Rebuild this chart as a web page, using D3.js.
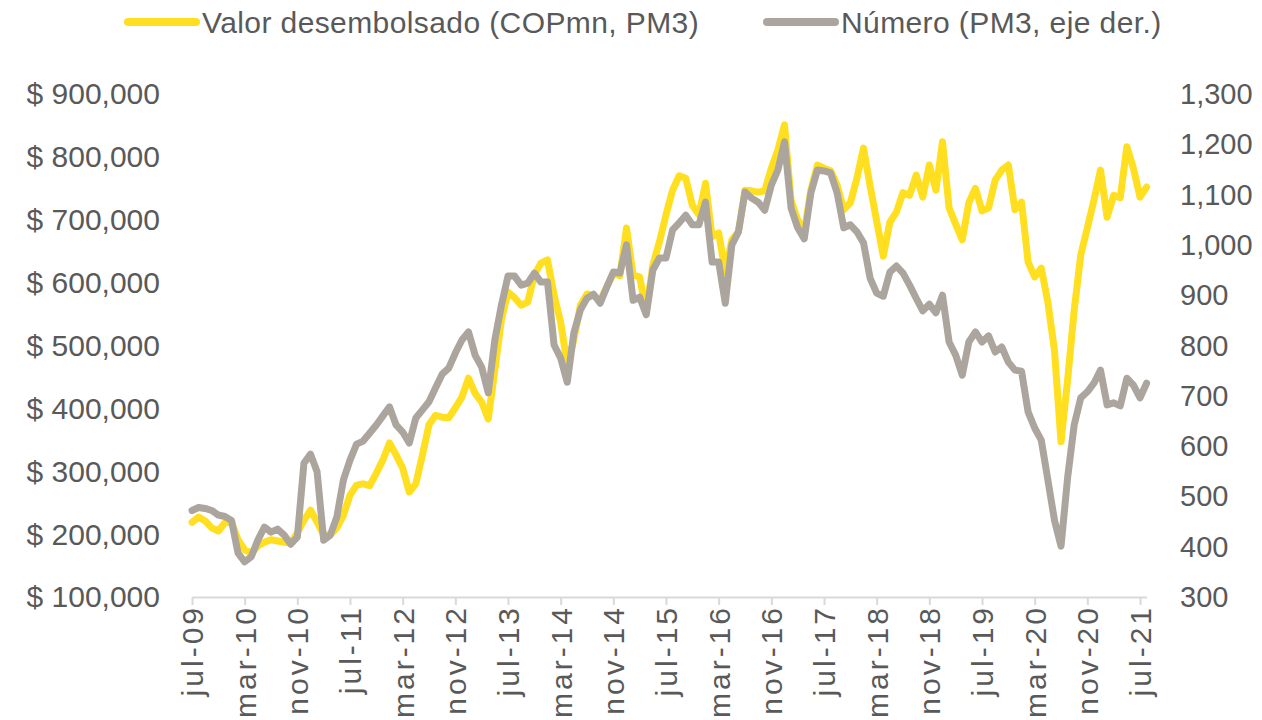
<!DOCTYPE html>
<html>
<head>
<meta charset="utf-8">
<script src="https://cdn.jsdelivr.net/npm/d3@7"></script>
<style>
  body { margin: 0; background: #fff; }
  svg text { font-family: "Liberation Sans", Arial, sans-serif; fill: #595959; }
</style>
</head>
<body>
<svg width="1262" height="720"></svg>
<script>
// months jul-09 .. aug-21
const monthNames = ["ene", "feb", "mar", "abr", "may", "jun", "jul", "ago", "sep", "oct", "nov", "dic"];
const startMonth = 6, startYear = 9, nMonths = 146;
const months = [];
for (let i = 0; i < nMonths; i++) {
  const m = (startMonth + i) % 12;
  const yr = startYear + Math.floor((startMonth + i) / 12);
  months.push(monthNames[m] + "-" + String(yr).padStart(2, "0"));
}

// Valor desembolsado (COPmn, PM3)
const valor = [
  219000, 227000, 221000, 210000, 205000, 218000, 219000, 191000, 175000, 170000,
  181000, 187000, 191000, 189000, 187000, 186000, 202000, 222000, 238000, 219000,
  199000, 199000, 210000, 230000, 262000, 278000, 280000, 277000, 297000, 318000,
  345000, 326000, 305000, 267000, 280000, 326000, 374000, 389000, 386000, 385000,
  401000, 418000, 448000, 424000, 410000, 383000, 461000, 541000, 585000, 576000,
  564000, 569000, 612000, 631000, 636000, 580000, 537000, 469000, 509000, 564000,
  582000, 579000, 572000, 593000, 615000, 611000, 687000, 612000, 609000, 552000,
  628000, 665000, 708000, 747000, 770000, 766000, 723000, 708000, 758000, 673000,
  679000, 617000, 668000, 681000, 747000, 746000, 744000, 746000, 782000, 811000,
  851000, 731000, 700000, 681000, 747000, 787000, 782000, 778000, 755000, 716000,
  727000, 766000, 814000, 754000, 698000, 642000, 696000, 712000, 743000, 739000,
  771000, 736000, 787000, 747000, 824000, 719000, 693000, 668000, 727000, 750000,
  714000, 719000, 763000, 779000, 787000, 716000, 728000, 633000, 609000, 623000,
  569000, 493000, 347000, 445000, 556000, 644000, 687000, 731000, 779000, 704000,
  739000, 735000, 816000, 782000, 736000, 752000
];

// Número (PM3, eje der.)
const numero = [
  472, 478, 476, 472, 463, 460, 452, 387, 370, 380,
  413, 439, 429, 435, 423, 405, 419, 566, 584, 549,
  413, 423, 459, 533, 572, 604, 610, 626, 642, 660,
  678, 642, 628, 606, 656, 672, 688, 716, 743, 755,
  785, 811, 827, 781, 757, 706, 811, 880, 938, 938,
  920, 924, 944, 926, 926, 801, 775, 727, 825, 871,
  894, 902, 884, 916, 946, 944, 1000, 890, 896, 861,
  950, 974, 974, 1030, 1044, 1059, 1040, 1040, 1085, 966,
  966, 884, 1000, 1026, 1105, 1093, 1085, 1069, 1119, 1149,
  1205, 1073, 1034, 1012, 1103, 1149, 1147, 1143, 1103, 1034,
  1040, 1026, 1004, 934, 904, 898, 946, 958, 944, 920,
  894, 869, 882, 865, 900, 807, 781, 741, 807, 827,
  807, 819, 787, 797, 767, 751, 749, 668, 636, 612,
  533, 453, 401, 537, 642, 696, 708, 725, 751, 682,
  686, 680, 735, 721, 696, 725
];

const leftTicks = [100000, 200000, 300000, 400000, 500000, 600000, 700000, 800000, 900000];
const rightTicks = [300, 400, 500, 600, 700, 800, 900, 1000, 1100, 1200, 1300];
const xTickLabels = months.filter((d, i) => i % 8 === 0);

const seriesNames = ["Valor desembolsado (COPmn, PM3)", "Número (PM3, eje der.)"];
const colors = ["#FFDF1F", "#ABA59E"];

const svg = d3.select("svg");

const x = d3.scalePoint().domain(months).range([192, 1146.6]);
const yL = d3.scaleLinear().domain([100000, 900000]).range([597, 94]);
const yR = d3.scaleLinear().domain([300, 1300]).range([597, 94]);

// left axis
const gL = svg.append("g")
  .attr("transform", "translate(160,0)")
  .call(d3.axisLeft(yL).tickValues(leftTicks).tickSize(0).tickPadding(0)
    .tickFormat(d => "$ " + d3.format(",")(d)));
gL.select(".domain").remove();
gL.selectAll("text").attr("font-size", 30).attr("dy", "0.33em");

// right axis
const gR = svg.append("g")
  .attr("transform", "translate(1180,0)")
  .call(d3.axisRight(yR).tickValues(rightTicks).tickSize(0).tickPadding(0)
    .tickFormat(d3.format(",")));
gR.select(".domain").remove();
gR.selectAll("text").attr("font-size", 29).attr("dy", "0.33em");

// bottom axis
const gX = svg.append("g")
  .attr("transform", "translate(0,597)")
  .call(d3.axisBottom(x).tickValues(xTickLabels).tickSizeInner(8).tickSizeOuter(0).tickPadding(0));
gX.select(".domain").attr("stroke", "#D9D9D9").attr("stroke-width", 2);
gX.selectAll(".tick line").attr("stroke", "#D9D9D9").attr("stroke-width", 2);
gX.selectAll("text")
  .attr("font-size", 30)
  .attr("letter-spacing", 3)
  .attr("text-anchor", "end")
  .attr("transform", "rotate(-90)")
  .attr("x", -8)
  .attr("y", 0)
  .attr("dy", "0.35em");

// lines
const lineL = d3.line().x((d, i) => x(months[i])).y(d => yL(d));
const lineR = d3.line().x((d, i) => x(months[i])).y(d => yR(d));

svg.append("path")
  .datum(valor)
  .attr("fill", "none")
  .attr("stroke", colors[0])
  .attr("stroke-width", 7)
  .attr("stroke-linejoin", "round")
  .attr("stroke-linecap", "round")
  .attr("d", lineL);

svg.append("path")
  .datum(numero)
  .attr("fill", "none")
  .attr("stroke", colors[1])
  .attr("stroke-width", 7)
  .attr("stroke-linejoin", "round")
  .attr("stroke-linecap", "round")
  .attr("d", lineR);

// legend
const legendX = [128, 767];
const legend = svg.append("g");
seriesNames.forEach((name, i) => {
  legend.append("line")
    .attr("x1", legendX[i]).attr("x2", legendX[i] + 68)
    .attr("y1", 22).attr("y2", 22)
    .attr("stroke", colors[i])
    .attr("stroke-width", 8)
    .attr("stroke-linecap", "round");
  legend.append("text")
    .attr("x", legendX[i] + 74)
    .attr("y", 33)
    .attr("font-size", 30)
    .attr("letter-spacing", 0.4)
    .text(name);
});
</script>
</body>
</html>
